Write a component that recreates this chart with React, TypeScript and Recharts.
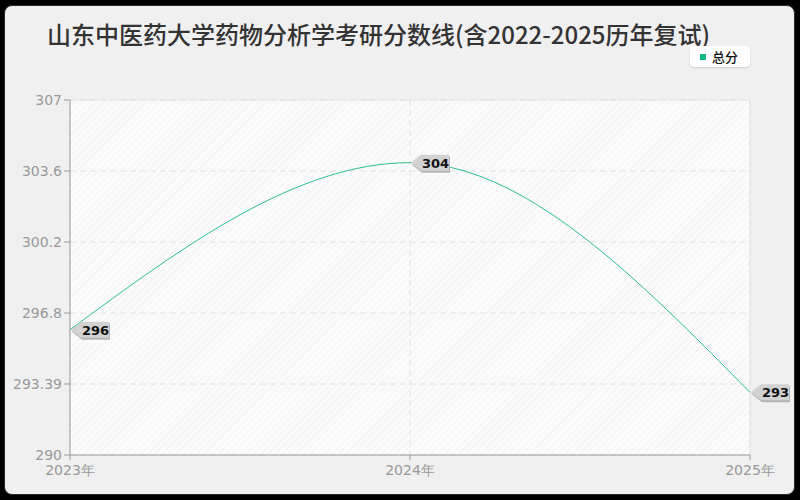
import React from "react";
import {
  CartesianGrid,
  LabelList,
  Line,
  LineChart,
  ReferenceLine,
  XAxis,
  YAxis,
} from "recharts";

const years = ["2023年", "2024年", "2025年"];
const scores = [296, 304, 293];
const yTicks = [290, 293.4, 296.8, 300.2, 303.6, 307];
const yTickLabels = ["290", "293.39", "296.8", "300.2", "303.6", "307"];

const data = years.map((year, i) => ({ year, score: scores[i] }));

const LINE_COLOR = "#2dbf8c";

const PointTag = (props: any) => {
  const { x, y, value } = props;
  const shape = (dx: number, dy: number) =>
    `M${x + 1 + dx},${y + dy} L${x + 11 + dx},${y - 8 + dy} L${x + 39 + dx},${y - 8 + dy} L${x + 39 + dx},${y + 8 + dy} L${x + 11 + dx},${y + 8 + dy} Z`;
  return (
    <g>
      <path d={shape(1, 2)} fill="#b4b4b4" />
      <path d={shape(0, 0)} fill="#d2d2d2" />
      <text
        x={x + 12}
        y={y + 5}
        fontSize={13}
        fontWeight="bold"
        fontFamily="DejaVu Sans"
        fill="#111"
      >
        {value}
      </text>
    </g>
  );
};

export default function App() {
  return (
    <div
      style={{
        position: "fixed",
        left: 0,
        top: 0,
        width: 800,
        height: 500,
        background: "#000",
      }}
    >
      <div
        style={{
          position: "absolute",
          left: 4,
          top: 5,
          width: 789,
          height: 488,
          background: "#f0f0f0",
          border: "1.5px solid #2a2a2a",
          borderRadius: 8,
        }}
      />
      <div
        style={{
          position: "absolute",
          left: 47,
          top: 18,
          fontFamily: "Noto Sans CJK SC",
          fontSize: 24,
          fontWeight: 500,
          lineHeight: "32px",
          color: "#333",
          whiteSpace: "nowrap",
        }}
      >
        山东中医药大学药物分析学考研分数线(含2022-2025历年复试)
      </div>
      <div
        style={{
          position: "absolute",
          left: 690,
          top: 46,
          width: 60,
          height: 21,
          background: "#fff",
          borderRadius: 4,
          boxShadow: "0 1px 2px rgba(0,0,0,0.15)",
          fontFamily: "Noto Sans CJK SC",
          fontSize: 13,
          fontWeight: 500,
          lineHeight: "21px",
          color: "#111",
        }}
      >
        <span
          style={{
            position: "absolute",
            left: 10,
            top: 8,
            width: 6,
            height: 6,
            background: "#10b981",
          }}
        />
        <span style={{ position: "absolute", left: 22, top: 0 }}>总分</span>
      </div>
      <div style={{ position: "absolute", left: 0, top: 0 }}>
        <LineChart
          width={800}
          height={500}
          data={data}
          margin={{ top: 100, right: 50, bottom: 20, left: 8 }}
        >
          <defs>
            <pattern
              id="hatch"
              width="5"
              height="5"
              patternUnits="userSpaceOnUse"
              patternTransform="rotate(45)"
            >
              <rect width="5" height="5" fill="#fbfbfb" />
              <line x1="0" y1="0" x2="0" y2="5" stroke="#f1f1f1" strokeWidth="1.5" />
            </pattern>
          </defs>
          <CartesianGrid
            stroke="#e2e2e2"
            strokeDasharray="6 4"
            fill="url(#hatch)"
          />
          <ReferenceLine y={307} stroke="#e4e4e4" />
          <ReferenceLine x="2025年" stroke="#e4e4e4" />
          <XAxis
            dataKey="year"
            stroke="#999"
            tick={{ fill: "#999", fontSize: 14, fontFamily: "DejaVu Sans", dy: 3 }}
            tickSize={5}
            height={25}
            interval={0}
          />
          <YAxis
            domain={[290, 307]}
            ticks={yTicks}
            tickFormatter={(v: number) => yTickLabels[yTicks.indexOf(v)] ?? String(v)}
            stroke="#999"
            tick={{ fill: "#999", fontSize: 14, fontFamily: "DejaVu Sans" }}
            tickSize={6}
            width={62}
            interval={0}
          />
          <Line
            type="monotone"
            dataKey="score"
            stroke={LINE_COLOR}
            strokeWidth={1}
            dot={false}
            activeDot={false}
            isAnimationActive={false}
          >
            <LabelList dataKey="score" content={PointTag} />
          </Line>
        </LineChart>
      </div>
    </div>
  );
}
